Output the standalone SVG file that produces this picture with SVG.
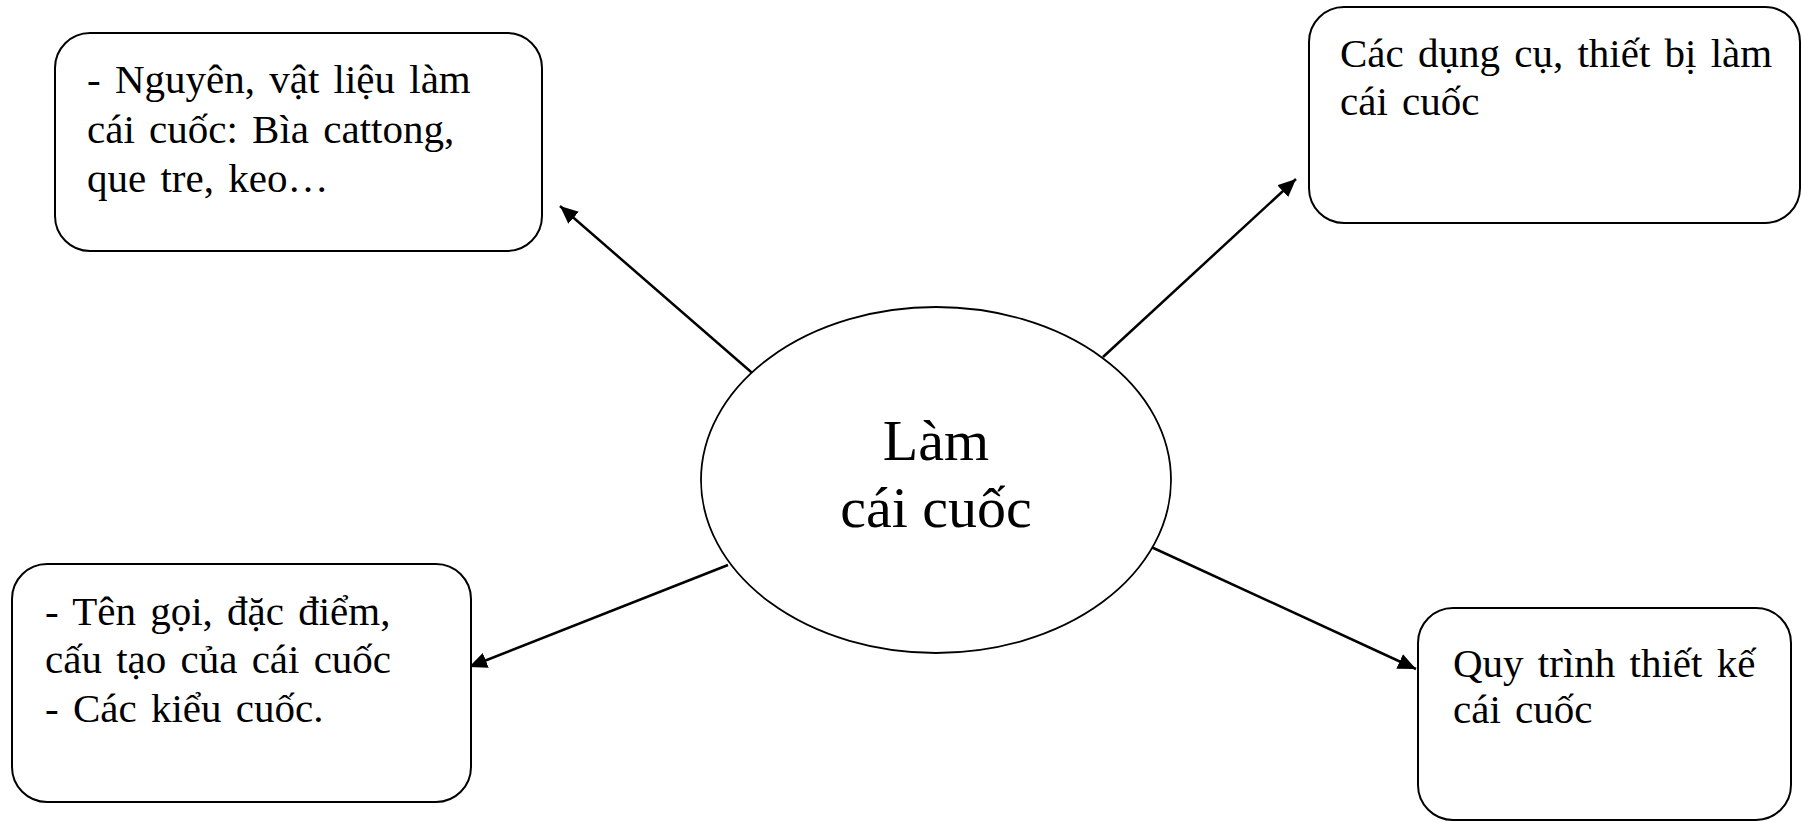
<svg xmlns="http://www.w3.org/2000/svg" width="1802" height="822" viewBox="0 0 1802 822">
<style>
.box{fill:#fff;stroke:#000;stroke-width:2}
.t{font-family:"Liberation Serif","Times New Roman",serif;font-size:41px;fill:#000;word-spacing:4px}
.c{font-family:"Liberation Serif","Times New Roman",serif;font-size:58px;fill:#000;text-anchor:middle}
.conn{stroke:#000;stroke-width:2.5;fill:none;marker-end:url(#arr)}
</style>
<defs>
<marker id="arr" markerUnits="userSpaceOnUse" markerWidth="20" markerHeight="16" refX="18" refY="8" orient="auto">
<path d="M0,0 L18,8 L0,16 z" fill="#000"/>
</marker>
</defs>
<rect width="1802" height="822" fill="#fff"/>
<g id="connectors">
<line class="conn" x1="758" y1="378" x2="560" y2="206"/>
<line class="conn" x1="1103" y1="357" x2="1296" y2="179"/>
<line class="conn" x1="728" y1="565" x2="469" y2="667"/>
<line class="conn" x1="1136" y1="540" x2="1416" y2="669"/>
</g>
<g id="center">
<ellipse cx="936" cy="480" rx="235" ry="173" fill="#fff" stroke="#000" stroke-width="1.8"/>
<text class="c" x="936" y="460">Làm</text>
<text class="c" x="936" y="527">cái cuốc</text>
</g>
<g id="materials">
<rect class="box" x="55" y="33" width="487" height="218" rx="35" ry="35"/>
<text class="t" x="87" y="93">- Nguyên, vật liệu làm</text>
<text class="t" x="87" y="143">cái cuốc: Bìa cattong,</text>
<text class="t" x="87" y="192">que tre, keo…</text>
</g>
<g id="tools">
<rect class="box" x="1309" y="7" width="491" height="216" rx="35" ry="35"/>
<text class="t" x="1340" y="67">Các dụng cụ, thiết bị làm</text>
<text class="t" x="1340" y="115">cái cuốc</text>
</g>
<g id="features">
<rect class="box" x="12" y="564" width="459" height="238" rx="35" ry="35"/>
<text class="t" x="45" y="625">- Tên gọi, đặc điểm,</text>
<text class="t" x="45" y="673">cấu tạo của cái cuốc</text>
<text class="t" x="45" y="722">- Các kiểu cuốc.</text>
</g>
<g id="process">
<rect class="box" x="1418" y="608" width="373" height="212" rx="35" ry="35"/>
<text class="t" x="1453" y="677">Quy trình thiết kế</text>
<text class="t" x="1453" y="723">cái cuốc</text>
</g>
</svg>
